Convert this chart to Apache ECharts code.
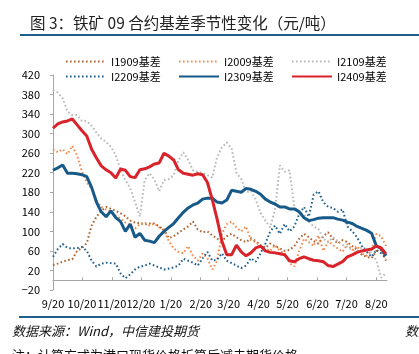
<!DOCTYPE html>
<html>
<head>
<meta charset="utf-8">
<script src="https://cdn.jsdelivr.net/npm/echarts@6/dist/echarts.min.js"></script>
<style>
  html, body { margin: 0; padding: 0; background: #fff; }
  #main { width: 419px; height: 354px; }
</style>
</head>
<body>
<div id="main"></div>
<script>
// 采样日期（季节性对齐到同一年度）
const dates = [
  '2023-09-20','2023-09-25','2023-09-30','2023-10-05','2023-10-10','2023-10-15','2023-10-20','2023-10-25','2023-10-30','2023-11-04',
  '2023-11-09','2023-11-14','2023-11-19','2023-11-24','2023-11-29','2023-12-04','2023-12-09','2023-12-14','2023-12-19','2023-12-24',
  '2023-12-29','2024-01-03','2024-01-08','2024-01-13','2024-01-18','2024-01-23','2024-01-28','2024-02-02','2024-02-07','2024-02-12',
  '2024-02-17','2024-02-22','2024-02-27','2024-03-03','2024-03-08','2024-03-13','2024-03-18','2024-03-23','2024-03-28','2024-04-02',
  '2024-04-07','2024-04-12','2024-04-17','2024-04-22','2024-04-27','2024-05-02','2024-05-07','2024-05-12','2024-05-17','2024-05-22',
  '2024-05-27','2024-06-01','2024-06-06','2024-06-11','2024-06-16','2024-06-21','2024-06-26','2024-07-01','2024-07-06','2024-07-11',
  '2024-07-16','2024-07-21','2024-07-26','2024-07-31','2024-08-05','2024-08-10','2024-08-15','2024-08-20','2024-08-25','2024-08-30'
]
const tickDates = ['2023-09-20','2023-10-20','2023-11-20','2023-12-20','2024-01-20','2024-02-20','2024-03-20','2024-04-20','2024-05-20','2024-06-20','2024-07-20','2024-08-20']
const names = ['I1909基差', 'I2009基差', 'I2109基差', 'I2209基差', 'I2309基差', 'I2409基差']

const i1909 = [31,34,38,41,43,60,66,76,112,130,142,150,146,142,137,131,122,118,117,114,116,116,110,104,86,90,97,104,110,120,104,98,100,92,85,80,90,95,88,82,78,86,80,72,66,75,70,65,60,62,70,85,95,88,80,75,90,98,85,75,82,78,70,62,52,48,45,60,62,40]
const i2009 = [268,262,268,258,275,255,222,200,188,164,150,145,140,132,126,118,112,106,115,118,112,116,108,102,80,65,58,55,70,50,40,55,45,22,40,95,115,120,108,100,110,82,78,70,65,60,72,60,55,35,28,60,85,78,70,92,60,80,72,65,58,74,62,70,55,50,62,95,90,70]
const i2109 = [389,384,372,345,338,338,326,326,316,302,290,283,273,256,226,205,188,160,130,205,219,206,182,205,207,215,245,262,246,225,222,220,215,210,252,272,282,270,220,207,180,183,165,138,122,108,144,235,222,225,150,138,135,120,110,105,85,78,88,80,72,68,62,60,68,64,56,40,5,15]
const i2209 = [48,64,74,66,65,66,68,60,40,28,34,36,35,34,14,4,12,22,28,30,34,30,26,22,24,26,30,44,40,36,30,45,58,40,42,55,40,35,30,25,30,45,38,55,75,100,112,95,115,100,110,135,150,130,175,182,160,150,148,140,145,110,100,88,70,58,48,62,55,45]
const i2309 = [225,230,236,219,219,218,216,212,190,160,140,130,142,128,120,100,115,88,96,82,80,77,90,100,108,116,128,139,148,154,158,166,168,168,160,158,164,184,182,180,188,186,182,176,166,160,156,150,150,146,146,140,128,122,124,127,128,128,128,125,123,119,116,110,106,102,96,70,65,50]
const i2409 = [311,320,324,326,330,318,306,295,268,250,234,226,220,209,228,225,212,210,226,228,232,238,240,260,254,246,226,219,217,215,218,216,200,165,125,80,52,52,72,58,50,56,66,70,60,57,56,54,52,40,38,44,48,44,41,40,38,30,28,33,38,48,52,57,60,62,64,70,66,54]

const font = '"Noto Sans CJK SC", "Liberation Sans", sans-serif'
const DAY = 86400000
const start = Date.UTC(2023, 8, 20)

// 日期 -> 距 9/20 的天数
function toDay(s) {
  const p = s.split('-')
  return Math.round((Date.UTC(+p[0], +p[1] - 1, +p[2]) - start) / DAY)
}
function dayLabel(n) {
  const d = new Date(start + n * DAY)
  return (d.getUTCMonth() + 1) + '/' + d.getUTCDate()
}
function pairs(arr) {
  return dates.map((d, i) => [toDay(d), arr[i]])
}
function dotted(name, data, color) {
  return {
    name, type: 'line', data: pairs(data), symbol: 'none', showSymbol: false,
    lineStyle: { color, width: 2, type: [1.6, 2.4] }, itemStyle: { color },
  }
}
function solid(name, data, color) {
  return {
    name, type: 'line', data: pairs(data), symbol: 'none', showSymbol: false,
    lineStyle: { color, width: 3 }, itemStyle: { color }, z: 3,
  }
}
function legendRow(top, data) {
  return {
    left: 60, top, orient: 'horizontal',
    itemWidth: 40, itemHeight: 10, itemGap: 5,
    itemStyle: { opacity: 0 },
    textStyle: { fontSize: 11, color: '#000', width: 62, lineHeight: 10 },
    data,
  }
}

const myChart = echarts.init(document.getElementById('main'))
const ticks = tickDates.map(toDay)
const option = {
  animation: false,
  textStyle: { fontFamily: font },
  grid: { left: 53, right: 32, top: 75, bottom: 64 },
  legend: [
    legendRow(51, names.slice(0, 3)),
    legendRow(66, names.slice(3)),
  ],
  xAxis: {
    type: 'value',
    min: 0,
    max: toDay('2024-08-31'),
    splitLine: { show: false },
    axisLine: { lineStyle: { color: '#a6a6a6', width: 1 } },
    axisTick: { show: true, inside: true, length: 3, customValues: ticks, lineStyle: { color: '#a6a6a6' } },
    axisLabel: {
      customValues: ticks,
      color: '#000', fontSize: 11, margin: 8,
      formatter: (v) => dayLabel(v),
    },
  },
  yAxis: {
    type: 'value',
    min: -20, max: 420, interval: 40,
    splitLine: { show: false },
    axisLine: { show: true, lineStyle: { color: '#a6a6a6', width: 1 } },
    axisTick: { show: true, length: 3, lineStyle: { color: '#a6a6a6' } },
    axisLabel: {
      color: '#000', fontSize: 11, margin: 13,
      formatter: (v) => (v < 0 ? '−' + (-v) : '' + v),
    },
  },
  series: [
    dotted(names[0], i1909, '#b0622f'),
    dotted(names[1], i2009, '#f58a4f'),
    dotted(names[2], i2109, '#b8b8b8'),
    dotted(names[3], i2209, '#1f5f8f'),
    solid(names[4], i2309, '#175a89'),
    solid(names[5], i2409, '#d9232a'),
  ],
  graphic: [
    { type: 'text', x: 30, y: 23, style: { text: '图 3：铁矿 09 合约基差季节性变化（元/吨）', fontSize: 15.5, fontFamily: font, fill: '#222', verticalAlign: 'middle' } },
    { type: 'rect', shape: { x: 20, y: 34, width: 399, height: 2 }, style: { fill: '#1f5f8f' } },
    { type: 'rect', shape: { x: 19, y: 316, width: 400, height: 2 }, style: { fill: '#1f5f8f' } },
    { type: 'text', x: 12, y: 331, style: { text: '数据来源：Wind，中信建投期货', fontSize: 13, fontStyle: 'italic', fontFamily: font, fill: '#111', verticalAlign: 'middle' } },
    { type: 'text', x: 405, y: 331, style: { text: '数据来源', fontSize: 13, fontStyle: 'italic', fontFamily: font, fill: '#111', verticalAlign: 'middle' } },
    { type: 'text', x: 12, y: 355, style: { text: '注：计算方式为港口现货价格折算后减去期货价格', fontSize: 13, fontFamily: font, fill: '#111', verticalAlign: 'middle' } },
  ],
}
myChart.setOption(option)
</script>
</body>
</html>
